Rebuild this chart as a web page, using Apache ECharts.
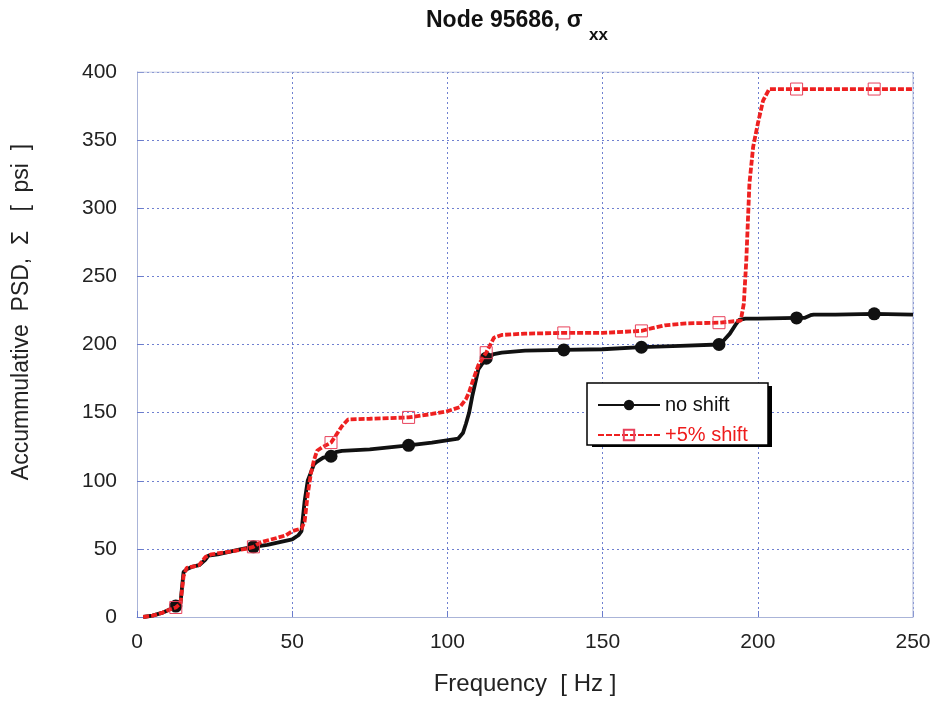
<!DOCTYPE html>
<html>
<head>
<meta charset="utf-8">
<script src="https://cdn.jsdelivr.net/npm/echarts@6/dist/echarts.min.js"></script>
<style>html,body{margin:0;padding:0;background:#fff;}#c{width:935px;height:704px;}</style>
</head>
<body>
<div id="c"></div>
<script>
var xTicks = [0, 50, 100, 150, 200, 250];
var yTicks = [0, 50, 100, 150, 200, 250, 300, 350, 400];
var seriesNames = ['no shift', '+5% shift'];
var markerF = [12.5, 37.5, 62.5, 87.5, 112.5, 137.5, 162.5, 187.5, 212.5, 237.5];

var noShiftF = [2, 5, 8, 10, 12.5, 14, 15, 16, 18, 20, 22, 23, 26, 30, 34, 37.5, 42, 46, 50, 52, 53, 54, 55, 56, 57, 58, 60, 62.5, 64, 66, 75, 87.5, 95, 103.5, 105, 106, 107, 108, 110, 112.5, 115, 117.5, 125, 137.5, 150, 162.5, 175, 187.5, 189, 191, 193, 194, 196, 200, 212.5, 215, 217, 218, 225, 237.5, 250];
var noShiftV = [0, 1, 3, 5, 8, 10, 33, 35, 37, 38, 42, 45, 46, 48, 50, 51.5, 53, 55, 57, 60, 63, 85, 100, 106, 112, 114, 117, 118, 121, 122, 123, 126, 128, 131, 135, 142, 150, 162, 182, 190, 193, 194, 195.5, 196, 196.5, 198, 199, 200, 203, 208, 215, 218, 219, 219, 219.5, 219.5, 221.5, 222, 222, 222.5, 222];

var shiftF = [2, 5, 8, 10, 12.5, 14, 15, 16, 18, 20, 22, 24, 30, 35, 37.5, 40, 45, 48, 50, 53, 54, 55, 56, 57, 58, 60, 62.5, 64, 66, 68, 75, 87.5, 95, 100, 104, 106, 107, 108, 110, 112.5, 115, 117.5, 125, 137.5, 150, 162.5, 166, 170, 177, 187.5, 194.5, 195.5, 196.3, 197.3, 198.5, 200, 201.7, 203.7, 212.5, 237.5, 250];
var shiftV = [0, 1, 3, 5, 7, 10, 30, 36, 37, 38, 44, 46, 48, 50, 51.5, 55, 58, 60, 63, 65, 70, 90, 105, 115, 122, 125, 128, 133, 140, 145, 145.5, 146.5, 149, 151, 154, 160, 165, 172, 185, 194, 205, 207, 208, 208.5, 208.5, 210, 212, 214, 215.5, 216, 217.5, 230, 262, 318, 345, 362, 379, 387.5, 387.5, 387.5, 387.5];

function pairs(fs, vs) { return fs.map(function (f, i) { return [f, vs[i]]; }); }
function markSize(size) {
  return function (v) { return markerF.indexOf(v[0]) >= 0 ? size : 0; };
}

var FONT = 'Liberation Sans, Arial, sans-serif';
var chart = echarts.init(document.getElementById('c'), null, { renderer: 'canvas' });
chart.setOption({
  animation: false,
  backgroundColor: '#ffffff',
  graphic: [
    { type: 'text', left: 426, top: 9, z: 10, style: { text: 'Node 95686, σ', font: 'bold 23px ' + FONT, fill: '#111' } },
    { type: 'text', left: 589, top: 27, z: 10, style: { text: 'xx', font: 'bold 17px ' + FONT, fill: '#111' } },
    { type: 'text', x: 22, y: 312, rotation: Math.PI / 2, z: 10,
      style: { text: 'Accummulative  PSD,  Σ   [  psi  ]', font: '23px ' + FONT, fill: '#222', align: 'center', verticalAlign: 'middle' } },
    { type: 'rect', z: 1, shape: { x: 592, y: 386, width: 180, height: 61 }, style: { fill: '#000' } },
    { type: 'rect', z: 2, shape: { x: 587, y: 383, width: 181, height: 62 }, style: { fill: '#fff', stroke: '#000', lineWidth: 1.5 } }
  ],
  grid: { left: 137, right: 22, top: 72, bottom: 87, containLabel: false },
  legend: {
    left: 589, top: 390, z: 20,
    orient: 'vertical',
    itemWidth: 62, itemHeight: 13, itemGap: 10,
    padding: [5, 8, 5, 8],
    textStyle: { fontFamily: FONT, fontSize: 20 },
    data: [
      { name: seriesNames[0], textStyle: { color: '#111' } },
      { name: seriesNames[1], textStyle: { color: '#ee1c1c' } }
    ]
  },
  xAxis: {
    type: 'value', min: xTicks[0], max: xTicks[xTicks.length - 1], interval: 50,
    name: 'Frequency  [ Hz ]', nameLocation: 'middle', nameGap: 55,
    nameTextStyle: { fontFamily: FONT, fontSize: 24, color: '#222' },
    axisLine: { show: true, lineStyle: { color: '#aab4d8', width: 1 } },
    axisTick: { show: true, inside: true, length: 6, lineStyle: { color: '#6a7ccc' } },
    axisLabel: { fontFamily: FONT, fontSize: 21, color: '#222', margin: 15 },
    splitLine: { show: true, lineStyle: { color: '#6f80d0', type: [2, 3], width: 1 } }
  },
  yAxis: {
    type: 'value', min: yTicks[0], max: yTicks[yTicks.length - 1], interval: 50,
    axisLine: { show: true, lineStyle: { color: '#aab4d8', width: 1 } },
    axisTick: { show: true, inside: true, length: 6, lineStyle: { color: '#6a7ccc' } },
    axisLabel: { fontFamily: FONT, fontSize: 21, color: '#222', margin: 20 },
    splitLine: { show: true, lineStyle: { color: '#6f80d0', type: [2, 3], width: 1 } }
  },
  series: [
    {
      name: seriesNames[0], type: 'line', z: 3,
      data: pairs(noShiftF, noShiftV),
      showSymbol: true, showAllSymbol: true, symbol: 'circle',
      symbolSize: markSize(13),
      itemStyle: { color: '#111' },
      lineStyle: { color: '#111', width: 3.8 }
    },
    {
      name: seriesNames[1], type: 'line', z: 4,
      data: pairs(shiftF, shiftV),
      showSymbol: true, showAllSymbol: true, symbol: 'rect',
      symbolSize: markSize(12),
      itemStyle: { color: 'rgba(255,255,255,0)', borderColor: '#e8405a', borderWidth: 1 },
      lineStyle: { color: '#ee2020', width: 3.8, type: [6, 2] }
    },
    {
      type: 'line', silent: true, z: 2,
      data: [[xTicks[0], yTicks[yTicks.length - 1]], [xTicks[xTicks.length - 1], yTicks[yTicks.length - 1]], [xTicks[xTicks.length - 1], yTicks[0]]],
      symbol: 'none', lineStyle: { color: '#aab4d8', width: 1 }
    }
  ]
});
</script>
</body>
</html>
